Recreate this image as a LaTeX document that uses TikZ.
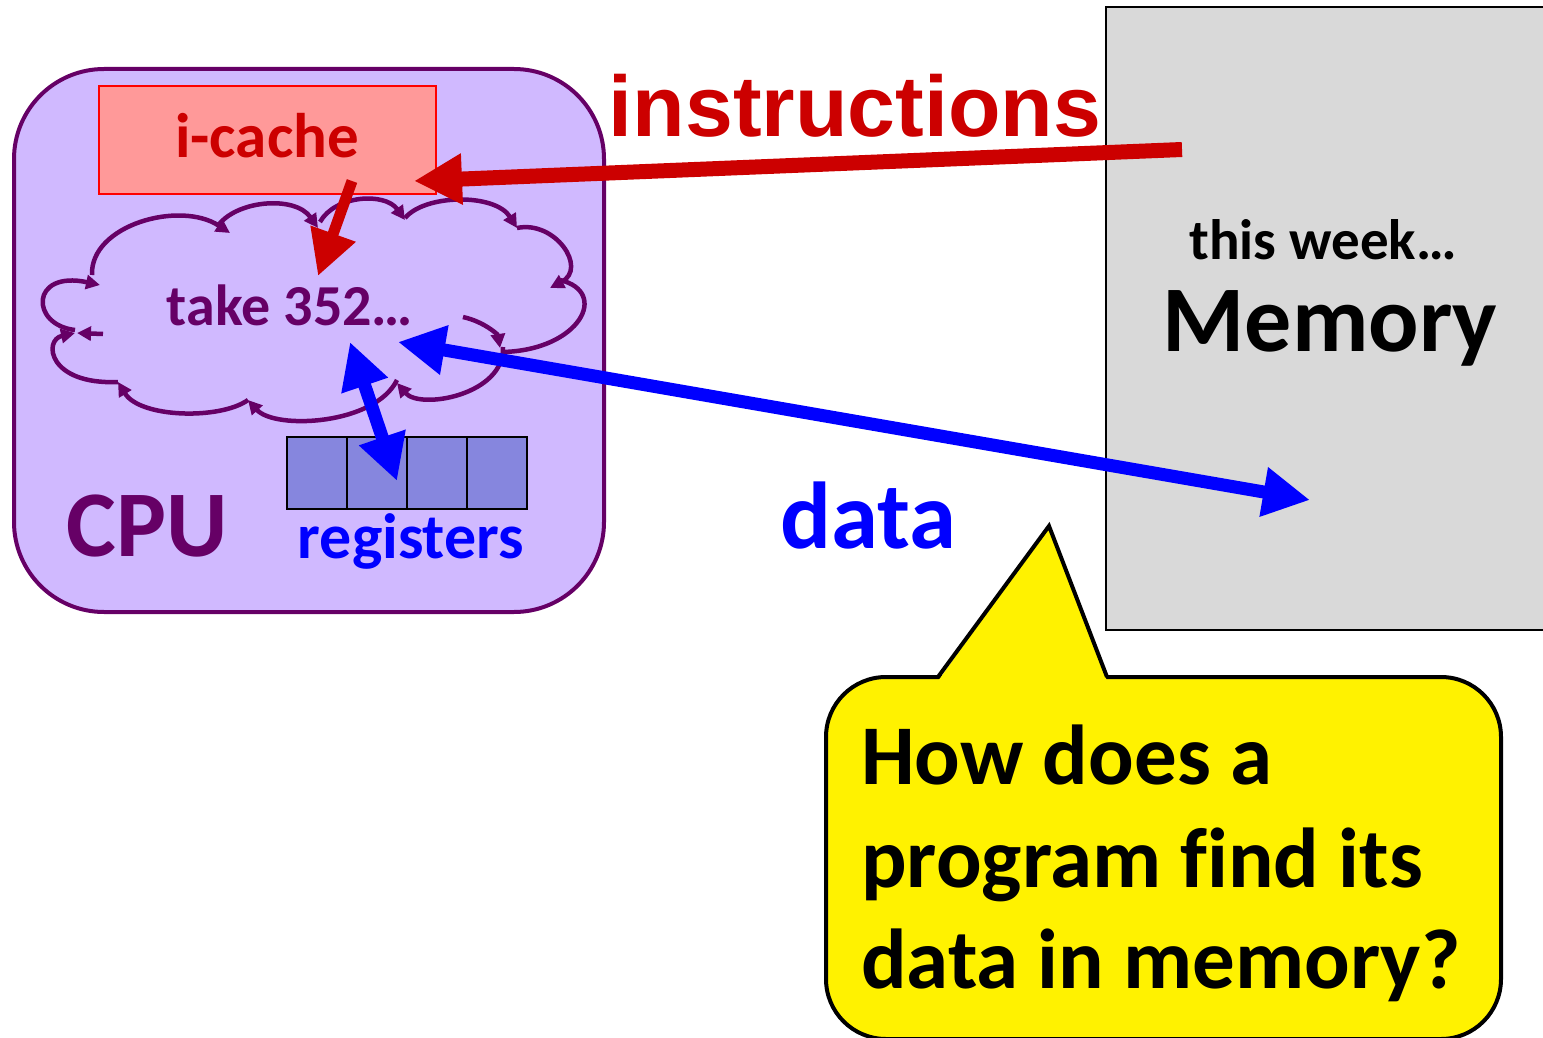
\documentclass[tikz,border=0pt]{standalone}
\usepackage{fontspec}
\setmainfont[Ligatures=NoCommon]{Carlito}
\newfontfamily\arialfont{Liberation Sans}
\usetikzlibrary{arrows.meta}
\definecolor{cpufill}{HTML}{D0B9FF}
\definecolor{cpuline}{HTML}{660066}
\definecolor{icfill}{HTML}{FF9999}
\definecolor{icred}{HTML}{CC0000}
\definecolor{regfill}{HTML}{8686DE}
\definecolor{memfill}{HTML}{D9D9D9}
\definecolor{dblue}{HTML}{0000FF}
\newcommand{\fsz}[1]{\bfseries\fontsize{#1}{#1}\selectfont}
\begin{document}
\begin{tikzpicture}[x=1pt,y=-1pt,
  txt/.style={inner sep=0pt, anchor=base},
  box/.style={anchor=north west, inner sep=0pt, outer sep=0pt},
  cloudline/.style={draw=cpuline, line width=4.5pt},
  cloudarc/.style={cloudline, -{Triangle[length=14pt,width=14pt]}},
  reg/.style={box, draw=black, fill=regfill, line width=2pt, minimum width=60pt, minimum height=72pt},
  redarr/.style={draw=icred, -{Triangle[length=#1pt,width=#1pt]}},
  bluearr/.style={draw=dblue, {Triangle[length=#1pt,width=#1pt]}-{Triangle[length=#1pt,width=#1pt]}}]

\useasboundingbox (0,0) rectangle (1543,1038);
\clip (0,0) rectangle (1543,1038);

% Memory
\node[box, draw=black, fill=memfill, line width=2pt, minimum width=470pt, minimum height=623pt] (mem) at (1106,7) {};
\node[txt, font=\fsz{57}] (week) at (1323,259) {this week…};
\node[txt, font=\fsz{94}] (memtxt) at (1330,351) {Memory};

% CPU
\node[box, draw=cpuline, fill=cpufill, line width=4pt, rounded corners=90pt, minimum width=590pt, minimum height=543pt] (cpu) at (14,69) {};
\node[box, draw=red, fill=icfill, line width=2pt, minimum width=337pt, minimum height=108pt] (icache) at (99,86) {};
\node[txt, text=icred, font=\fsz{63}] (ictxt) at (267,158) {i-cache};

% cloud
\coordinate (a1) at (92,275);   \coordinate (a2) at (230,233);
\coordinate (b1) at (217,227);  \coordinate (b2) at (318,228);
\coordinate (d1) at (320,222);  \coordinate (d2) at (405,220);
\coordinate (e1) at (405,218);  \coordinate (e2) at (517,228);
\coordinate (f1) at (517,228);  \coordinate (f2) at (550,288);
\coordinate (g1) at (560,280);  \coordinate (g2) at (503,352);
\coordinate (n1) at (463,317);  \coordinate (n2) at (500,348);
\coordinate (h1) at (503,347);  \coordinate (h2) at (397,383);
\coordinate (k1) at (397,380);  \coordinate (k2) at (248,400);
\coordinate (l1) at (248,400);  \coordinate (l2) at (118,382);
\coordinate (m1) at (118,382);  \coordinate (m2) at (75,333);
\coordinate (s1) at (103,334);  \coordinate (s2) at (77,333);
\coordinate (p1) at (75,330);   \coordinate (p2) at (100,285);
\draw[cloudarc] (a1) .. controls (90,225) and (180,200) .. (a2);
\draw[cloudarc] (b1) .. controls (235,200) and (295,195) .. (b2);
\draw[cloudarc] (d1) .. controls (335,195) and (385,192) .. (d2);
\draw[cloudarc] (e1) .. controls (425,194) and (495,193) .. (e2);
\draw[cloudarc] (f1) .. controls (555,220) and (588,268) .. (f2);
\draw[cloudline] (g1) .. controls (610,292) and (580,350) .. (g2);
\draw[cloudarc] (n1) .. controls (485,322) and (498,335) .. (n2);
\draw[cloudarc] (h1) .. controls (505,395) and (420,410) .. (h2);
\draw[cloudarc] (k1) .. controls (375,425) and (275,430) .. (k2);
\draw[cloudarc] (l1) .. controls (220,420) and (140,418) .. (l2);
\draw[cloudarc] (m1) .. controls (48,385) and (43,340) .. (m2);
\draw[cloudarc] (s1) -- (s2);
\draw[cloudarc] (p1) .. controls (30,325) and (30,270) .. (p2);
\node[txt, text=cpuline, font=\fsz{58}] (take) at (290,325) {take 352…};

% registers
\node[reg] (r1) at (287,437) {};
\node[reg] (r2) at (347,437) {};
\node[reg] (r3) at (407,437) {};
\node[reg] (r4) at (467,437) {};
\node[txt, text=dblue, font=\fsz{64}] (regtxt) at (411,558) {registers};
\node[txt, text=cpuline, font=\fsz{94}] (cputxt) at (147,556) {CPU};

% labels
\node[txt, text=icred, font=\arialfont\fsz{86}] (instr) at (855,137) {instructions};
\node[txt, text=dblue, font=\fsz{95}] (datatxt) at (868,548) {data};

% callout
\node[box, draw=black, fill=yellow, line width=4pt, rounded corners=60pt, minimum width=675pt, minimum height=362pt] (callout) at (826,677) {};
\coordinate (tailL) at (938,677);
\coordinate (tailA) at (1049,526);
\coordinate (tailR) at (1107,677);
\fill[yellow] (938,681) -- (tailA) -- (1107,681) -- cycle;
\draw[line width=4pt, line join=miter] (tailL) -- (tailA) -- (tailR);
\node[txt, anchor=base west, font=\fsz{85}] (q1) at (861,784) {How does a};
\node[txt, anchor=base west, font=\fsz{85}] (q2) at (861,887) {program find its};
\node[txt, anchor=base west, font=\fsz{85}] (q3) at (861,988) {data in memory?};

% arrows
\coordinate (insSrc) at (1182,149.5);
\coordinate (insTip) at (414,181);
\draw[redarr=48, line width=15pt] (insSrc) -- (insTip);
\coordinate (icOut) at (352,181);
\coordinate (icIn) at (318,276);
\draw[redarr=45, line width=11pt] (icOut) -- (icIn);
\coordinate (cloudData) at (398,342);
\coordinate (memData) at (1310,500);
\draw[bluearr=47, line width=13pt] (cloudData) -- (memData);
\coordinate (cloudReg) at (350,342);
\coordinate (regIn) at (397,481);
\draw[bluearr=46, line width=13pt] (cloudReg) -- (regIn);
\end{tikzpicture}
\end{document}
